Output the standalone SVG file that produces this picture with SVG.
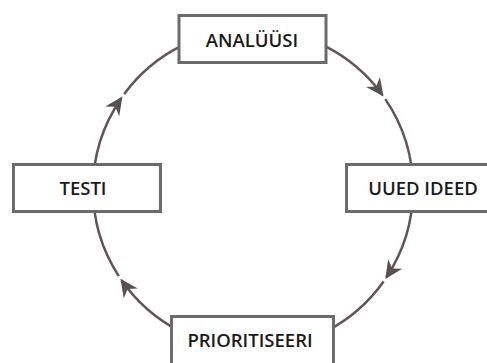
<svg xmlns="http://www.w3.org/2000/svg" width="487" height="363" viewBox="0 0 487 363">
  <style>
    .arc { fill: none; stroke: #5f5657; stroke-width: 2.5; }
    .box { fill: #ffffff; stroke: #6b6b6b; stroke-width: 3; }
    .label { font-family: "Open Sans", "Liberation Sans", sans-serif; font-weight: 600; font-size: 18.5px; fill: #1a1a1a; text-anchor: middle; }
  </style>
  <defs>
    <marker id="head" markerUnits="userSpaceOnUse" viewBox="-20 -10 22 20" markerWidth="22" markerHeight="20" refX="-2" refY="0" orient="auto">
      <path d="M0,0 L-18,-8.5 L-12.5,0 L-18,8.5 Z" fill="#575152"/>
    </marker>
  </defs>

  <!-- cycle arcs, circle centre (253,189), r = 160 -->
  <g id="connectors">
    <path class="arc" d="M253,29 A160,160 0 0 1 382.4,95.0" marker-end="url(#head)"/>
    <path class="arc" d="M385.3,99.1 A160,160 0 0 1 413,189"/>
    <path class="arc" d="M413,189 A160,160 0 0 1 386.4,277.3" marker-end="url(#head)"/>
    <path class="arc" d="M383.6,281.5 A160,160 0 0 1 253,349"/>
    <path class="arc" d="M253,349 A160,160 0 0 1 121.6,280.3" marker-end="url(#head)"/>
    <path class="arc" d="M118.8,276.1 A160,160 0 0 1 93,189"/>
    <path class="arc" d="M93,189 A160,160 0 0 1 121.3,98.2" marker-end="url(#head)"/>
    <path class="arc" d="M124.2,94.1 A160,160 0 0 1 253,29"/>
  </g>

  <g id="analuusi">
    <rect class="box" x="179" y="15.5" width="147" height="47"/>
    <text class="label" x="252" y="47">ANALÜÜSI</text>
  </g>
  <g id="uued-ideed">
    <rect class="box" x="346.5" y="164.5" width="145" height="47"/>
    <text class="label" x="423" y="195">UUED IDEED</text>
  </g>
  <g id="prioritiseeri">
    <rect class="box" x="171.5" y="316.5" width="162" height="50"/>
    <text class="label" x="250" y="347">PRIORITISEERI</text>
  </g>
  <g id="testi">
    <rect class="box" x="13.5" y="164.5" width="147" height="47"/>
    <text class="label" x="83" y="195">TESTI</text>
  </g>
</svg>
